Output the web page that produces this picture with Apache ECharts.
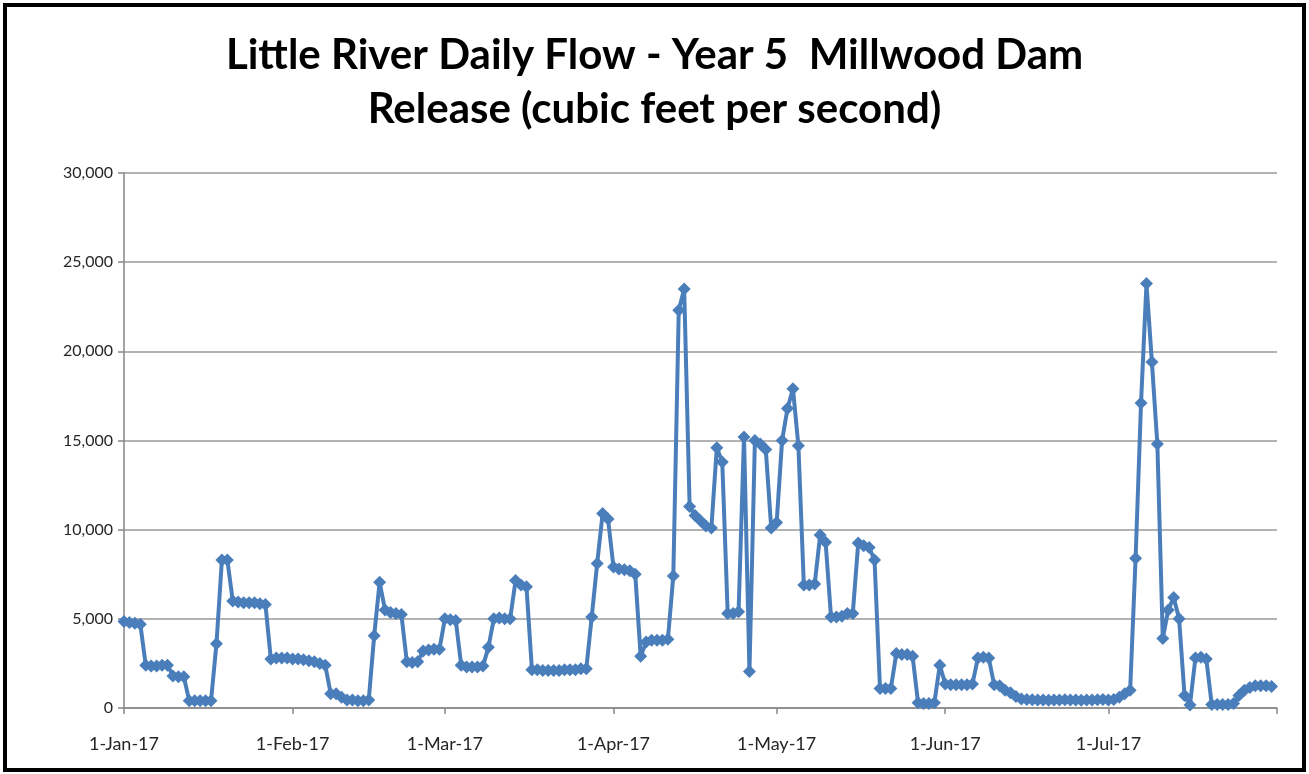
<!DOCTYPE html>
<html>
<head>
<meta charset="utf-8">
<script src="https://cdn.jsdelivr.net/npm/echarts@6/dist/echarts.min.js"></script>
<style>
  html, body { margin: 0; padding: 0; background: #ffffff; }
  #chart { width: 1309px; height: 774px; }
</style>
</head>
<body>
<div id="chart"></div>
<script>
// Daily release at Millwood Dam, cubic feet per second, one array per month (2017)
const flowJan = [4850, 4800, 4750, 4700, 2400, 2350, 2350, 2400, 2400, 1800, 1750, 1750, 400, 400, 400, 400,
  400, 3600, 8300, 8300, 6000, 5950, 5900, 5900, 5900, 5850, 5800, 2750, 2800, 2800, 2800];
const flowFeb = [2750, 2750, 2700, 2650, 2600, 2500, 2400, 800, 800, 600, 450, 450, 400, 400, 450, 4050,
  7050, 5500, 5350, 5300, 5250, 2600, 2550, 2600, 3200, 3250, 3300, 3300];
const flowMar = [5000, 4950, 4900, 2400, 2300, 2300, 2300, 2350, 3400, 5000, 5050, 5000, 5000, 7150, 6900,
  6800, 2150, 2150, 2100, 2100, 2100, 2100, 2150, 2150, 2150, 2200, 2200, 5100, 8100, 10900, 10600];
const flowApr = [7900, 7800, 7750, 7700, 7500, 2900, 3700, 3800, 3800, 3800, 3850, 7400, 22300, 23500, 11300,
  10800, 10500, 10200, 10100, 14600, 13800, 5300, 5300, 5400, 15200, 2050, 15000, 14800, 14500, 10100];
const flowMay = [10400, 15000, 16800, 17900, 14700, 6900, 6900, 6950, 9700, 9300, 5100, 5100, 5150, 5300, 5300,
  9250, 9100, 9000, 8300, 1100, 1100, 1100, 3050, 3000, 3000, 2900, 300, 250, 250, 300, 2400];
const flowJun = [1350, 1300, 1300, 1300, 1300, 1350, 2800, 2850, 2800, 1300, 1250, 1000, 850, 650, 500,
  480, 460, 450, 450, 440, 450, 450, 460, 450, 450, 440, 450, 450, 460, 470];
const flowJul = [450, 480, 600, 800, 1000, 8400, 17100, 23800, 19400, 14800, 3900, 5500, 6200, 5000, 700,
  170, 2800, 2850, 2750, 200, 200, 200, 200, 250, 700, 1000, 1150, 1250, 1250, 1250, 1200];

// Month-start tick labels; the axis closes on the first of August
const tickLabels = ['1-Jan-17', '1-Feb-17', '1-Mar-17', '1-Apr-17', '1-May-17', '1-Jun-17', '1-Jul-17'];
const axisEnd = '1-Aug-17';

const flow = [].concat(flowJan, flowFeb, flowMar, flowApr, flowMay, flowJun, flowJul);

const monthNames = ['Jan', 'Feb', 'Mar', 'Apr', 'May', 'Jun', 'Jul', 'Aug', 'Sep', 'Oct', 'Nov', 'Dec'];
const categories = [];
const start = Date.UTC(2017, 0, 1);
for (let i = 0; i <= flow.length; i++) {
  const d = new Date(start + i * 86400000);
  categories.push(d.getUTCDate() + '-' + monthNames[d.getUTCMonth()] + '-' + String(d.getUTCFullYear()).slice(2));
}

const axisFont = 'Lato, "Open Sans", "DejaVu Sans", sans-serif';
const chart = echarts.init(document.getElementById('chart'), null, { renderer: 'canvas' });

chart.setOption({
  animation: false,
  backgroundColor: '#ffffff',
  title: {
    text: 'Little River Daily Flow - Year 5  Millwood Dam\nRelease (cubic feet per second)',
    left: 'center',
    top: 28,
    padding: 0,
    textStyle: {
      fontFamily: axisFont,
      fontSize: 42,
      fontWeight: 'bold',
      color: '#000000',
      lineHeight: 54
    }
  },
  grid: { left: 124, right: 32, top: 173, bottom: 66, containLabel: false },
  xAxis: {
    type: 'category',
    data: categories,
    boundaryGap: false,
    axisLine: { show: true, lineStyle: { color: '#868686', width: 1.5 } },
    axisTick: {
      show: true,
      length: 6,
      interval: (i, v) => tickLabels.includes(v) || v === axisEnd,
      lineStyle: { color: '#868686', width: 1.5 }
    },
    axisLabel: {
      interval: (i, v) => tickLabels.includes(v),
      color: '#262626',
      fontFamily: axisFont,
      fontSize: 18,
      margin: 27
    },
    splitLine: { show: false }
  },
  yAxis: {
    type: 'value',
    min: 0,
    max: 30000,
    interval: 5000,
    axisLine: { show: true, lineStyle: { color: '#868686', width: 1.5 } },
    axisTick: { show: true, length: 6, lineStyle: { color: '#868686', width: 1.5 } },
    axisLabel: {
      color: '#262626',
      fontFamily: axisFont,
      fontSize: 16,
      margin: 11,
      formatter: v => v.toLocaleString('en-US')
    },
    splitLine: { show: true, lineStyle: { color: '#9a9a9a', width: 1.5 } }
  },
  series: [{
    name: 'Release',
    type: 'line',
    data: flow,
    showAllSymbol: true,
    symbol: 'diamond',
    symbolSize: 13,
    itemStyle: { color: '#4a7ebb' },
    lineStyle: { color: '#4a7ebb', width: 4 },
    z: 3
  }],
  graphic: [{
    type: 'rect',
    silent: true,
    shape: { x: 5, y: 5, width: 1299, height: 765 },
    style: { fill: 'none', stroke: '#000000', lineWidth: 4 },
    z: 100
  }]
});
</script>
</body>
</html>
